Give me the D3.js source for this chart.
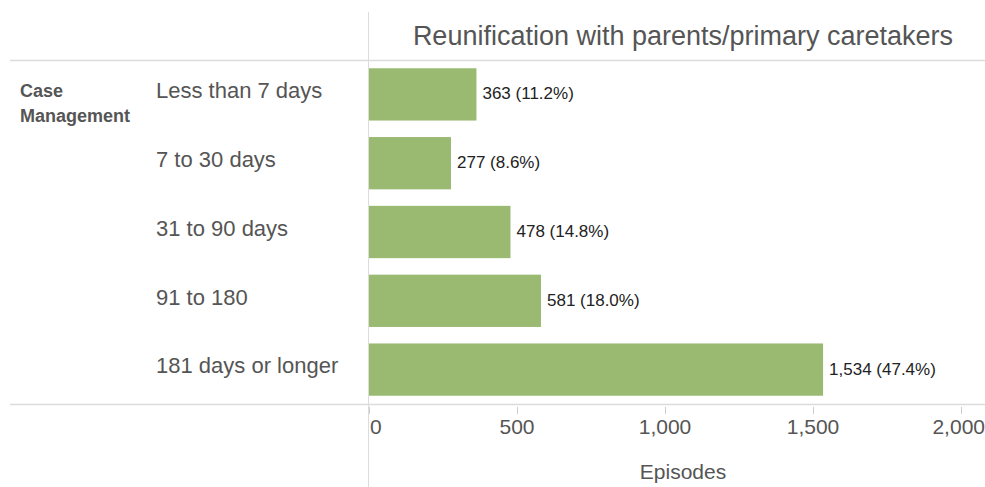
<!DOCTYPE html>
<html>
<head>
    <meta charset="UTF-8">
    <title>Reunification with parents/primary caretakers</title>
    <style>
        body { margin: 0; background: #fff; }
        svg { display: block; font-family: "Liberation Sans", Arial, sans-serif; }
    </style>
    <script src="https://cdn.jsdelivr.net/npm/d3@7"></script>
</head>
<body>
<svg id="chart" width="985" height="487"></svg>
<script>
    var categories = ["Less than 7 days", "7 to 30 days", "31 to 90 days", "91 to 180", "181 days or longer"];
    var episodes = [363, 277, 478, 581, 1534];
    var ticks = [0, 500, 1000, 1500, 2000];

    var total = d3.sum(episodes);
    var data = categories.map(function (c, i) {
        return {name: c, value: episodes[i]};
    });

    var svg = d3.select("#chart");
    var plotLeft = 369, plotRight = 961, plotTop = 60, plotBottom = 404;

    var x = d3.scaleLinear().domain([0, 2000]).range([plotLeft, plotRight]);
    var y = d3.scaleBand().domain(categories).range([plotTop, plotBottom])
        .paddingInner(0.24).paddingOuter(0.12);

    // grid lines
    svg.append("line").attr("x1", 368.5).attr("x2", 368.5).attr("y1", 12).attr("y2", 487)
        .attr("stroke", "#dcdcdc").attr("stroke-width", 1);
    [60.5, 404.5].forEach(function (yy) {
        svg.append("line").attr("x1", 10).attr("x2", 985).attr("y1", yy).attr("y2", yy)
            .attr("stroke", "#dcdcdc").attr("stroke-width", 1.5);
    });

    // title
    svg.append("text").attr("x", 683).attr("y", 45).attr("text-anchor", "middle")
        .attr("font-size", 27).attr("fill", "#555")
        .text("Reunification with parents/primary caretakers");

    // row header
    var hdr = svg.append("text").attr("x", 20).attr("y", 97)
        .attr("font-size", 18).attr("font-weight", "bold").attr("fill", "#555");
    hdr.append("tspan").attr("x", 20).attr("dy", 0).text("Case");
    hdr.append("tspan").attr("x", 20).attr("dy", 25).text("Management");

    // category labels
    svg.selectAll(".cat").data(data).enter().append("text")
        .attr("class", "cat")
        .attr("x", 156)
        .attr("y", function (d) { return y(d.name) + y.bandwidth() / 2 - 4; })
        .attr("dy", "0.35em")
        .attr("font-size", 22).attr("fill", "#555")
        .text(function (d) { return d.name; });

    // bars
    svg.selectAll(".bar").data(data).enter().append("rect")
        .attr("class", "bar")
        .attr("x", x(0))
        .attr("y", function (d) { return y(d.name); })
        .attr("width", function (d) { return x(d.value) - x(0); })
        .attr("height", y.bandwidth())
        .attr("fill", "#9aba72");

    // value labels
    var fmt = d3.format(",");
    svg.selectAll(".val").data(data).enter().append("text")
        .attr("class", "val")
        .attr("x", function (d) { return x(d.value) + 6; })
        .attr("y", function (d) { return y(d.name) + y.bandwidth() / 2 - 1; })
        .attr("dy", "0.35em")
        .attr("font-size", 17).attr("fill", "#222")
        .text(function (d) {
            return fmt(d.value) + " (" + (d.value / total * 100).toFixed(1) + "%)";
        });

    // x axis
    var axis = svg.append("g");
    axis.selectAll(".tick").data(ticks).enter().append("line")
        .attr("x1", function (d) { return Math.round(x(d)) + 0.5; })
        .attr("x2", function (d) { return Math.round(x(d)) + 0.5; })
        .attr("y1", 407).attr("y2", 414)
        .attr("stroke", "#ccc");
    axis.selectAll(".tl").data(ticks).enter().append("text")
        .attr("x", function (d, i) {
            if (i === 0) return x(d) + 1;
            if (i === ticks.length - 1) return 985;
            return x(d);
        })
        .attr("y", 434)
        .attr("text-anchor", function (d, i) {
            return i === 0 ? "start" : (i === ticks.length - 1 ? "end" : "middle");
        })
        .attr("font-size", 21).attr("fill", "#555")
        .text(function (d) { return fmt(d); });

    svg.append("text").attr("x", 683).attr("y", 479).attr("text-anchor", "middle")
        .attr("font-size", 21).attr("fill", "#555").text("Episodes");
</script>
</body>
</html>
